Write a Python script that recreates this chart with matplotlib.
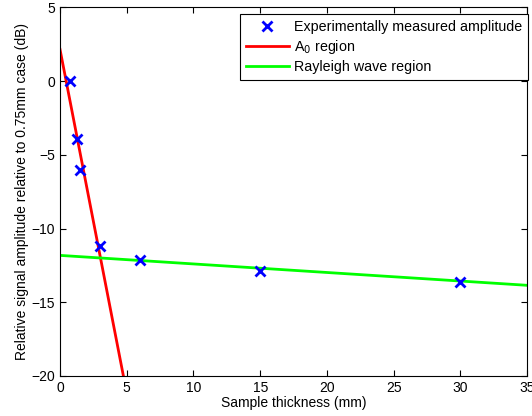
import matplotlib
matplotlib.use('Agg')
import matplotlib.pyplot as plt

plt.rcParams['font.family'] = ['Liberation Sans', 'DejaVu Sans']
plt.rcParams['font.size'] = 10

# measured points
thickness = [0.75, 1.25, 1.5, 3, 6, 15, 30]
amplitude = [0.0, -3.95, -6.05, -11.2, -12.1, -12.9, -13.6]

# fitted regions (end points)
a0_x = [0, 4.75]
a0_y = [2.15, -20]
rayleigh_x = [0, 35]
rayleigh_y = [-11.82, -13.85]

fig = plt.figure(figsize=(5.32, 4.16), dpi=100)
ax = fig.add_axes([0.1128, 0.0962, 0.878, 0.886])

ax.plot(thickness, amplitude, 'x', color='#0000ff', markersize=7, mew=2,
        label='Experimentally measured amplitude', zorder=3)
ax.plot(a0_x, a0_y, color='#ff0000', lw=2, label='A$_0$ region')
ax.plot(rayleigh_x, rayleigh_y, color='#00ff00', lw=2, label='Rayleigh wave region')

ax.set_xlim(0, 35)
ax.set_ylim(-20, 5)
ax.set_xticks(range(0, 36, 5))
ax.set_yticks(range(-20, 6, 5))
ax.tick_params(direction='in', top=True, right=True, length=4, labelsize=10)
ax.set_xlabel('Sample thickness (mm)', labelpad=1)
ax.set_ylabel('Relative signal amplitude relative to 0.75mm case (dB)', labelpad=2)

leg = ax.legend(loc='upper right', bbox_to_anchor=(1.001, 0.982), borderaxespad=0,
                fancybox=False, framealpha=1, edgecolor='black',
                handlelength=3.0, labelspacing=0.3,
                borderpad=0.4, handletextpad=0.35, fontsize=10.3)
leg.get_frame().set_linewidth(0.8)

fig.savefig('out.png', dpi=100)
